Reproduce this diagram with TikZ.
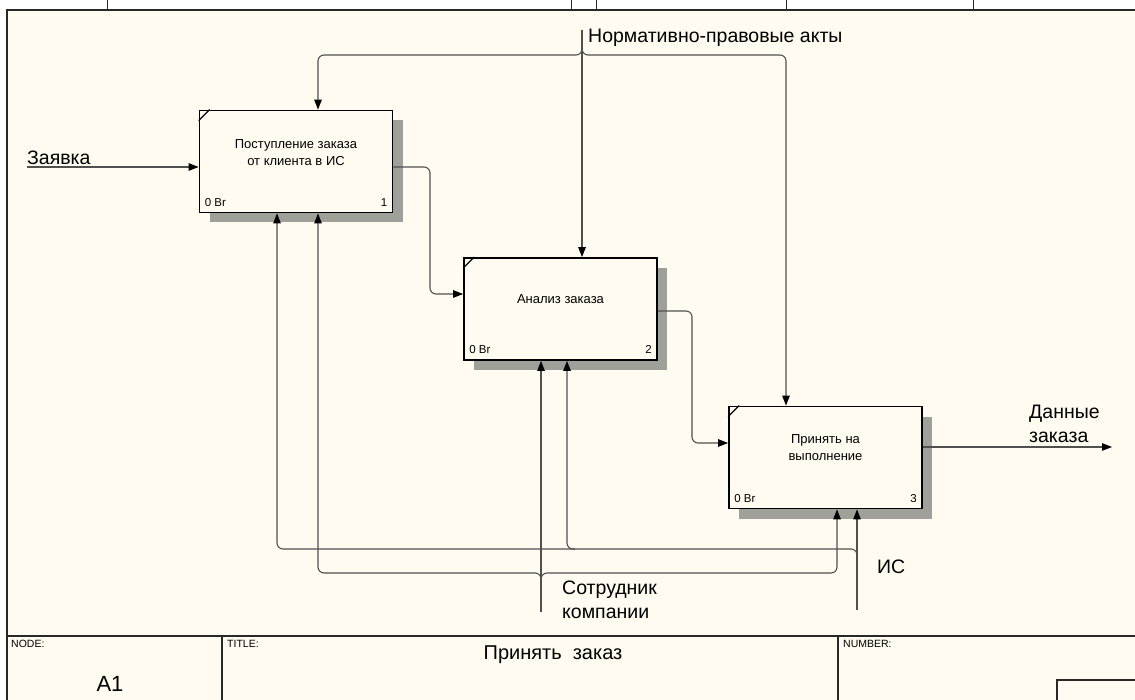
\documentclass[tikz,border=0pt]{standalone}
\usepackage{fontspec}
\setmainfont{Liberation Sans}
\usetikzlibrary{arrows.meta,shadows}
\definecolor{paper}{RGB}{255,251,240}
\definecolor{hatch}{RGB}{160,160,154}
\definecolor{wire}{RGB}{80,80,80}
\definecolor{frameline}{RGB}{40,40,40}

\begin{document}
\begin{tikzpicture}[x=1pt,y=-1pt,
  func/.style={draw=black, line width=1.8pt, fill=paper, inner sep=0pt,
    minimum width=193pt, minimum height=102pt,
    drop shadow={shadow xshift=10pt, shadow yshift=-10pt, fill=hatch, opacity=1}},
  btext/.style={font=\fontsize{13}{17}\selectfont, align=center, inner sep=0pt},
  bnum/.style={font=\fontsize{11.5}{13}\selectfont, inner sep=0pt},
  lbl/.style={font=\fontsize{19.5}{24}\selectfont, inner sep=0pt},
  tiny/.style={font=\fontsize{10.5}{12}\selectfont, inner sep=0pt, anchor=north west},
  wire/.style={draw=wire, line width=1.1pt},
  arr/.style={wire, -{Triangle[length=10pt,width=7.5pt,color=black]}},
  corner/.style={rounded corners=6pt},
  frm/.style={draw=frameline, line width=1.4pt}]

% sheet and frame
\useasboundingbox (0,0) rectangle (1135,700);
\fill[white] (0,0) rectangle (1135,700);
\fill[paper] (7,10) rectangle (1135,700);
\draw[frm] (7,700) -- (7,10) -- (1135,10);
\foreach \t in {107,571,596,786,973} \draw[frameline, line width=1pt] (\t,0) -- (\t,10);

% title block
\draw[frm] (7,636) -- (1135,636);
\draw[frm] (222,636) -- (222,700);
\draw[frm] (838,636) -- (838,700);
\draw[frm] (1057,700) -- (1057,680) -- (1135,680);
\node[tiny] (kNode) at (11,640) {NODE:};
\node[tiny] (kTitle) at (227,640) {TITLE:};
\node[tiny] (kNum) at (843,640) {NUMBER:};
\node[font=\fontsize{22}{26}\selectfont, inner sep=0pt] (vNode) at (110,684) {A1};
\node[font=\fontsize{20}{24}\selectfont, inner sep=0pt] (vTitle) at (553,655) {Принять\hspace{0.55em}заказ};

% activity boxes
\node[func] (b1) at (296,161.5) {};
\node[func] (b2) at (560.5,309) {};
\node[func] (b3) at (825.5,457.5) {};

\foreach \b/\n in {b1/1,b2/2,b3/3}{
  \draw[line width=1.2pt] ([yshift=-11pt]\b.north west) -- ([xshift=11pt]\b.north west);
  \node[bnum, anchor=base west] (\b zero) at ([shift={(6pt,7pt)}]\b.south west) {0 Br};
  \node[bnum, anchor=base east] (\b num) at ([shift={(-6pt,7pt)}]\b.south east) {\n};
}
\node[btext] (t1) at ([yshift=9pt]b1.center) {Поступление заказа\\от клиента в ИС};
\node[btext] (t2) at ([yshift=10pt]b2.center) {Анализ заказа};
\node[btext] (t3) at ([yshift=10pt]b3.center) {Принять на\\выполнение};

% arrow columns and ports
\coordinate (xc1) at (318,0);
\coordinate (xc3) at (786,0);
\coordinate (xi1) at (277,0);
\coordinate (xm1) at (318,0);
\coordinate (xi2) at (567,0);
\coordinate (xm3) at (837,0);
\coordinate (x12) at (430,0);
\coordinate (x23) at (692,0);
\coordinate (xout) at (1112,0);

\coordinate (b1in) at ([yshift=-5.5pt]b1.west);
\coordinate (b1out) at ([yshift=-5.5pt]b1.east);
\coordinate (b2in) at ([yshift=15pt]b2.west);
\coordinate (b2out) at ([yshift=-2pt]b2.east);
\coordinate (b3in) at ([yshift=14.5pt]b3.west);
\coordinate (b3out) at ([yshift=10.5pt]b3.east);

% input
\coordinate (inL) at (27,167);
\draw[arr] (inL) -- (b1in);
\node[lbl, anchor=base west] (lIn) at (27,164.5) {Заявка};

% control
\coordinate (ctlTop) at (582,30);
\coordinate (ctlJ) at (582,49);
\coordinate (ctlBus) at (582,55);
\draw[arr] (ctlTop) -- (ctlTop |- b2.north);
\draw[arr, corner] (ctlJ) -- (ctlBus) -- (ctlBus -| xc1) -- (xc1 |- b1.north);
\draw[arr, corner] (ctlJ) -- (ctlBus) -- (ctlBus -| xc3) -- (xc3 |- b3.north);
\node[lbl, anchor=base west] (lCtl) at (588,42.5) {Нормативно-правовые акты};

% flow between activities
\draw[arr, corner] (b1out) -- (b1out -| x12) -- (x12 |- b2in) -- (b2in);
\draw[arr, corner] (b2out) -- (b2out -| x23) -- (x23 |- b3in) -- (b3in);

% output
\draw[arr] (b3out) -- (b3out -| xout);
\node[lbl, anchor=base west, align=left] (lOut) at (1029,442) {Данные\\заказа};

% mechanism: staff
\coordinate (empBot) at (541,612);
\coordinate (empJ) at (541,579);
\coordinate (empBus) at (541,573);
\draw[arr] (empBot) -- (empBot |- b2.south);
\draw[arr, corner] (empJ) -- (empBus) -- (empBus -| xm1) -- (xm1 |- b1.south);
\draw[arr, corner] (empJ) -- (empBus) -- (empBus -| xm3) -- (xm3 |- b3.south);
\node[lbl, anchor=base west, align=left] (lEmp) at (562,618) {Сотрудник\\компании};

% mechanism: information system
\coordinate (isBot) at (857,610);
\coordinate (isJ) at (857,556);
\coordinate (isBus) at (857,549);
\coordinate (isTap) at (575,549);
\draw[arr] (isBot) -- (isBot |- b3.south);
\draw[arr, corner] (isJ) -- (isBus) -- (isBus -| xi1) -- (xi1 |- b1.south);
\draw[arr, corner] (isTap) -- (isTap -| xi2) -- (xi2 |- b2.south);
\node[lbl, anchor=base west] (lIS) at (877,573) {ИС};
\end{tikzpicture}
\end{document}
